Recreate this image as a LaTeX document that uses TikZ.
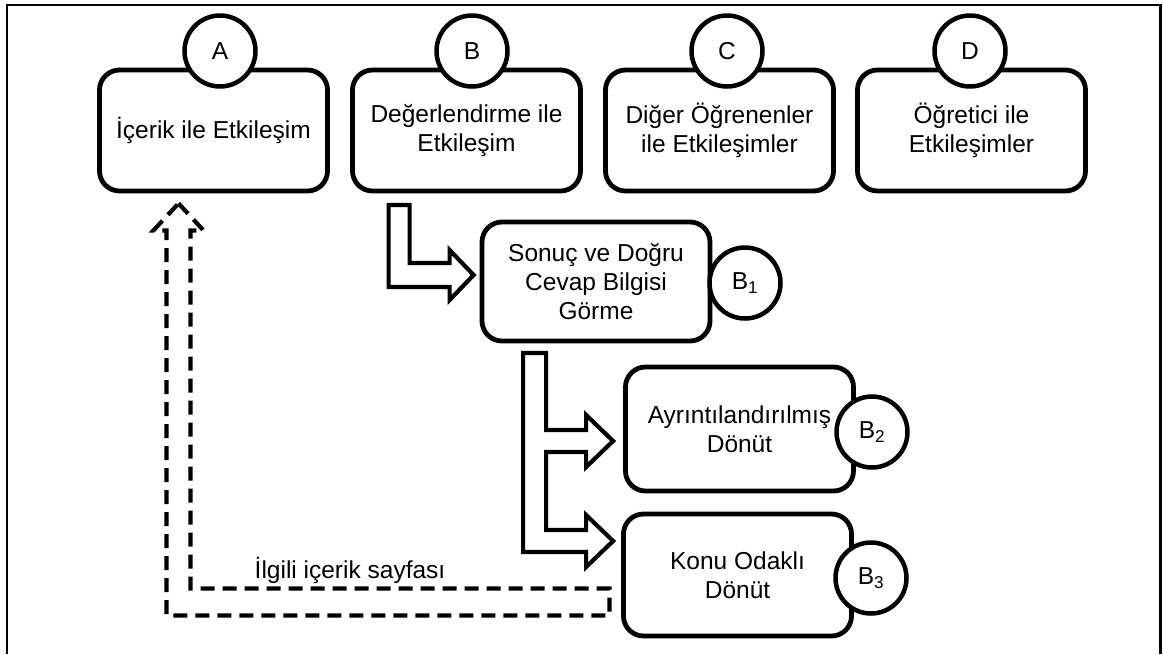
\documentclass[tikz,border=0pt]{standalone}
\usepackage{fontspec}
\setmainfont{Liberation Sans}
\usetikzlibrary{calc}
\begin{document}
\begin{tikzpicture}[x=1pt,y=-1pt,
  every node/.style={font=\fontsize{24.5}{29}\selectfont},
  panel/.style={draw,line width=4.8pt,rounded corners=20pt,fill=white,
    align=center,inner sep=0pt,minimum width=228pt},
  tag/.style={draw,circle,line width=4.5pt,fill=white,minimum size=71pt,inner sep=0pt},
  blockarrow/.style={draw,line width=4.2pt,fill=white,line join=miter},
  dasharrow/.style={draw,line width=4.2pt,dash pattern=on 14pt off 8pt,line join=miter}]
\useasboundingbox (0,0) rectangle (1163,654);
% outer frame, open at the bottom
\draw[line width=2pt] (7,654) -- (7,5) -- (1160,5);
\draw[line width=3.5pt] (1160.5,4) -- (1160.5,654);

% top row of interaction types
\node[panel,minimum height=121pt] (A) at (213.5,130.5) {İçerik ile Etkileşim};
\node[panel,minimum height=121pt] (B) at (466.5,130.5) {Değerlendirme ile\\Etkileşim};
\node[panel,minimum height=121pt] (C) at (719.5,130.5) {Diğer Öğrenenler\\ile Etkileşimler};
\node[panel,minimum height=121pt] (D) at (971.5,130.5) {Öğretici ile\\Etkileşimler};
\node[tag] (cA) at (220,51) {A};
\node[tag] (cB) at (472,51) {B};
\node[tag] (cC) at (727,51) {C};
\node[tag] (cD) at (970,51) {D};

% assessment feedback steps
\node[panel,minimum height=119pt] (B1) at (596,281.5) {Sonuç ve Doğru\\Cevap Bilgisi\\Görme};
\node[panel,minimum height=124pt] (B2) at (739.5,429) {Ayrıntılandırılmış\\Dönüt};
\node[panel,minimum height=122pt] (B3) at (737.5,575) {Konu Odaklı\\Dönüt};
\node[tag] (c1) at (745,283) {B\textsubscript{1}};
\node[tag] (c2) at (872,432) {B\textsubscript{2}};
\node[tag] (c3) at (871,578) {B\textsubscript{3}};

% block arrow B -> B1
\coordinate (t1) at ($(B1.west)+(-6,-6.5)$);
\draw[blockarrow] (t1) -- ++(-24,-25) -- ++(0,13) -- ++(-40,0) -- ++(0,-58)
  -- ++(-21,0) -- ++(0,82) -- ++(61,0) -- ++(0,13) -- cycle;

% forked block arrow B1 -> B2, B3
\coordinate (t2) at ($(B2.west)+(-10,12)$);
\draw[blockarrow] (t2) -- ++(-27,26) -- ++(0,-15) -- ++(-40,0) -- ++(0,78)
  -- ++(40,0) -- ++(0,-15) -- ++(27,26) -- ++(-27,26) -- ++(0,-15)
  -- ++(-63,0) -- ++(0,-199) -- ++(23,0) -- ++(0,77) -- ++(40,0)
  -- ++(0,-15) -- cycle;

% dashed return arrow B3 -> A
\coordinate (ta) at ($(A.south)+(-35,10)$);
\draw[dasharrow] (ta) -- ++(25,27) -- ++(-13,0) -- ++(0,358) -- ++(419,0)
  -- ++(0,27) -- ++(-443,0) -- ++(0,-385) -- ++(-13,0) -- cycle;
\node (lbl) at (350,570) {İlgili içerik sayfası};
\end{tikzpicture}
\end{document}
